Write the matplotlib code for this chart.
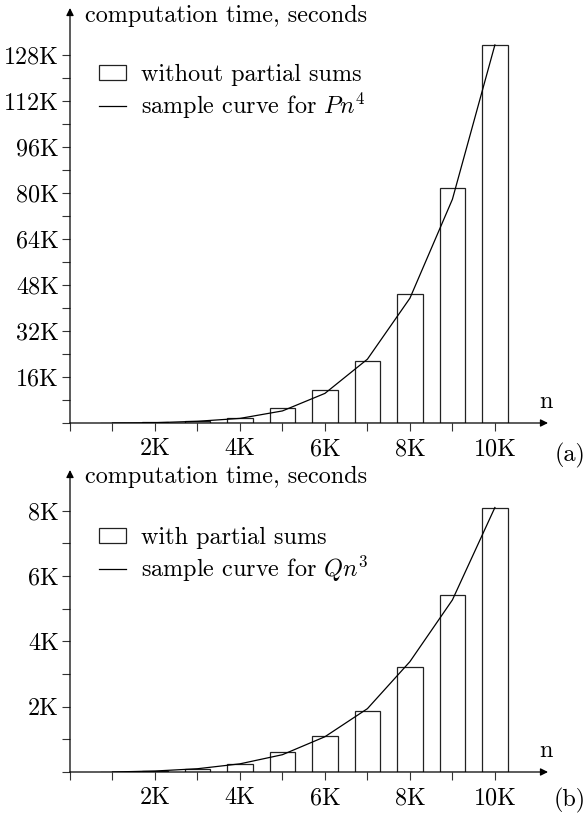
import matplotlib
matplotlib.use("Agg")
import matplotlib.pyplot as plt
from matplotlib.patches import Patch
from matplotlib.lines import Line2D
from matplotlib.ticker import FixedLocator, FuncFormatter

plt.rcParams['font.family'] = ['cmr10', 'DejaVu Serif']
plt.rcParams['mathtext.fontset'] = 'cm'
plt.rcParams['axes.formatter.use_mathtext'] = True

# data (values in thousands)
n_k = [1, 2, 3, 4, 5, 6, 7, 8, 9, 10]
time_without = [0.02, 0.2, 0.7, 1.7, 5.1, 11.4, 21.7, 44.8, 81.6, 131.5]
curve_pn4 = [0.0, 0.1, 0.6, 1.6, 4.2, 10.3, 22.2, 43.4, 77.8, 131.5]
time_with = [0.005, 0.03, 0.1, 0.245, 0.6, 1.09, 1.87, 3.22, 5.42, 8.10]
curve_qn3 = [0.0, 0.03, 0.1, 0.25, 0.53, 1.08, 1.94, 3.38, 5.27, 8.10]

x_ticks = list(range(0, 11))
x_labels = {2: '2K', 4: '4K', 6: '6K', 8: '8K', 10: '10K'}
ya_ticks = list(range(0, 129, 8))
ya_labels = {v: f'{v}K' for v in range(16, 129, 16)}
yb_ticks = list(range(0, 9))
yb_labels = {v: f'{v}K' for v in range(2, 9, 2)}

W, H = 587, 816
fig = plt.figure(figsize=(W / 100, H / 100), dpi=100)

FS = 17.4


def px_axes(x0, y_top, x1, y_bot):
    return [x0 / W, 1 - y_bot / H, (x1 - x0) / W, (y_bot - y_top) / H]


def setup(ax, xmax, ymax, yticks, ylabels, bar_vals, curve_vals, leg_bar, leg_line,
          title_y, leg_y, n_y):
    ax.bar(n_k, bar_vals, width=0.6, facecolor='white', edgecolor='#222222', linewidth=0.9, zorder=2)
    ax.plot(n_k, curve_vals, color='black', linewidth=0.9, zorder=3)
    ax.set_xlim(0, xmax)
    ax.set_ylim(0, ymax)
    for s in ['top', 'right', 'left', 'bottom']:
        ax.spines[s].set_visible(False)
    ax.annotate('', xy=(0, 1), xytext=(0, 0), xycoords='axes fraction',
                arrowprops=dict(arrowstyle='-|>', color='black', lw=0.9,
                                mutation_scale=11, shrinkA=0, shrinkB=0))
    ax.annotate('', xy=(1, 0), xytext=(0, 0), xycoords='axes fraction',
                arrowprops=dict(arrowstyle='-|>', color='black', lw=0.9,
                                mutation_scale=11, shrinkA=0, shrinkB=0))
    ax.xaxis.set_major_locator(FixedLocator(x_ticks))
    ax.xaxis.set_major_formatter(FuncFormatter(lambda v, p: x_labels.get(int(round(v)), '')))
    ax.yaxis.set_major_locator(FixedLocator(yticks))
    ax.yaxis.set_major_formatter(FuncFormatter(lambda v, p: ylabels.get(int(round(v)), '')))
    ax.tick_params(direction='out', length=6, width=0.8, color='#333333', labelsize=FS)
    ax.tick_params(axis='y', pad=2)
    ax.tick_params(axis='x', pad=5)
    ax.text(546 / W, 1 - n_y / H, 'n', transform=fig.transFigure, fontsize=FS,
            ha='center', va='baseline')
    handles = [Patch(facecolor='white', edgecolor='#222222', linewidth=0.9),
               Line2D([], [], color='black', linewidth=0.9)]
    fig.legend(handles, [leg_bar, leg_line], loc='upper left',
               bbox_to_anchor=(99 / W, 1 - leg_y / H),
               frameon=False, fontsize=FS, handlelength=1.1, handleheight=0.62,
               handletextpad=0.65, labelspacing=0.2, borderpad=0, borderaxespad=0)
    fig.text(85 / W, 1 - title_y / H, 'computation time, seconds', fontsize=FS,
             va='center', ha='left')


ax1 = fig.add_axes(px_axes(70, 8, 548, 423))
setup(ax1, 11.25, (423 - 8) / 368 * 128, ya_ticks, ya_labels, time_without, curve_pn4,
      'without partial sums', r'sample curve for $Pn^4$', 16, 64, 408)
fig.text(570 / W, 1 - 455 / H, '(a)', fontsize=FS, ha='center', va='center')

ax2 = fig.add_axes(px_axes(70, 470, 548, 772))
setup(ax2, 11.25, (772 - 470) / 32.65, yb_ticks, yb_labels, time_with, curve_qn3,
      'with partial sums', r'sample curve for $Qn^3$', 477, 527, 757)
fig.text(570 / W, 1 - 800 / H, '(b)', fontsize=FS, ha='center', va='center')

fig.savefig('out.png', dpi=100)
